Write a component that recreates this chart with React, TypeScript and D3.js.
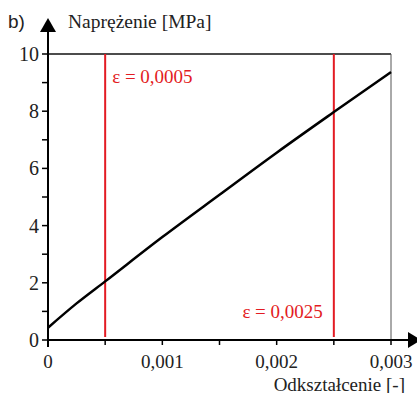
import React from "react";
import * as d3 from "d3";

// strain [-] vs stress [MPa]
const strain = [0, 0.00025, 0.0005, 0.001, 0.0015, 0.002, 0.0025, 0.003];
const stress = [0.43, 1.28, 2.05, 3.6, 5.08, 6.55, 7.97, 9.37];
const markers = [0.0005, 0.0025];
const markerLabels = ["ε = 0,0005", "ε = 0,0025"];
const xTicks = [0, 0.001, 0.002, 0.003];
const xTickLabels = ["0", "0,001", "0,002", "0,003"];
const xMinor = [0.0005, 0.0015, 0.0025];
const yTicks = [0, 2, 4, 6, 8, 10];
const yMinor = [1, 3, 5, 7, 9];

const W = 417;
const H = 393;
const margin = { left: 48, right: 26, top: 54, bottom: 53 };
const serif = { fontFamily: "'Liberation Serif', Tinos, Times, 'DejaVu Serif', serif" };
const red = "#e31b23";

export default function App() {
  const x = d3.scaleLinear().domain([0, 0.003]).range([margin.left, W - margin.right]);
  const y = d3.scaleLinear().domain([0, 10]).range([H - margin.bottom, margin.top]);

  const pts = strain.map((s, i) => [s, stress[i]] as [number, number]);
  const line = d3
    .line<[number, number]>()
    .x(d => x(d[0]))
    .y(d => y(d[1]))
    .curve(d3.curveMonotoneX);

  const x0 = x(0);
  const y0 = y(0);

  return (
    <div>
      <style>{`body{margin:0}`}</style>
      <svg width={W} height={H} style={{ display: "block", background: "#fff" }}>
        {/* frame: top and right */}
        <line x1={x0} x2={x(0.003)} y1={y(10)} y2={y(10)} stroke="#111" strokeWidth={1.5} />
        <line x1={x(0.003)} x2={x(0.003)} y1={y(10)} y2={y0} stroke="#555" strokeWidth={1} />

        {/* red strain markers */}
        {markers.map(m => (
          <line key={m} x1={x(m)} x2={x(m)} y1={y(10)} y2={y0 - 3} stroke={red} strokeWidth={2} />
        ))}

        {/* curve */}
        <path d={line(pts) || ""} fill="none" stroke="#000" strokeWidth={2.5} />

        {/* y axis */}
        <line x1={x0} x2={x0} y1={26} y2={y0 + 7} stroke="#000" strokeWidth={2} />
        <path d={`M${x0},18 L${x0 - 8},32 L${x0 + 8},32 Z`} fill="#000" />
        {yTicks.concat(yMinor).map(t => (
          <line key={"yt" + t} x1={x0 - 6} x2={x0} y1={y(t)} y2={y(t)} stroke="#000" strokeWidth={1.5} />
        ))}
        {yTicks.map(t => (
          <text key={"yl" + t} x={39} y={y(t)} dy="0.35em" textAnchor="end"
            style={serif} fontSize={20} fill="#222">{t}</text>
        ))}

        {/* x axis */}
        <line x1={x0} x2={410} y1={y0} y2={y0} stroke="#000" strokeWidth={2} />
        <path d={`M${W + 4},${y0} L408,${y0 - 8} L408,${y0 + 8} Z`} fill="#000" />
        {xTicks.concat(xMinor).map(t => (
          <line key={"xt" + t} x1={x(t)} x2={x(t)} y1={y0} y2={y0 + 5} stroke="#000" strokeWidth={1.5} />
        ))}
        {xTicks.map((t, i) => (
          <text key={"xl" + t} x={x(t)} y={368} textAnchor="middle"
            style={serif} fontSize={19} fill="#222">{xTickLabels[i]}</text>
        ))}

        {/* marker labels */}
        <text x={x(markers[0]) + 7} y={83} style={serif} fontSize={19} fill={red}>{markerLabels[0]}</text>
        <text x={x(markers[1]) - 11} y={318} textAnchor="end" style={serif} fontSize={19} fill={red}>{markerLabels[1]}</text>

        {/* titles */}
        <text x={8} y={28} style={{ fontFamily: "'Liberation Sans', Arial, sans-serif" }} fontSize={19} fill="#222">b)</text>
        <text x={68} y={28} style={serif} fontSize={19.5} fill="#222">Naprężenie [MPa]</text>
        <text x={405} y={391} textAnchor="end" style={serif} fontSize={19} fill="#222">Odkształcenie [-]</text>
      </svg>
    </div>
  );
}
